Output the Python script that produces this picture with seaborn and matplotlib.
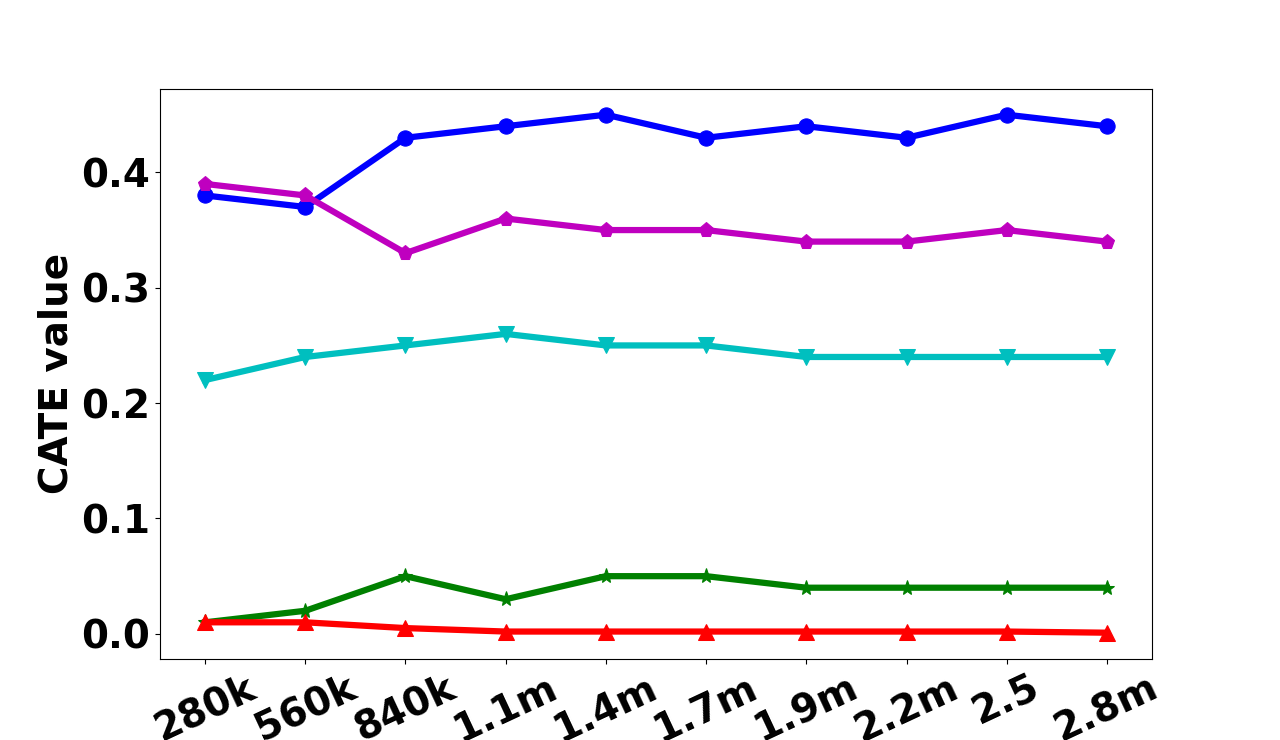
import matplotlib
matplotlib.use("Agg")
import matplotlib.pyplot as plt
import seaborn as sns
import pandas as pd

x_labels = ["280k", "560k", "840k", "1.1m", "1.4m", "1.7m", "1.9m", "2.2m", "2.5", "2.8m"]
blue_vals = [0.38, 0.37, 0.43, 0.44, 0.45, 0.43, 0.44, 0.43, 0.45, 0.44]
magenta_vals = [0.39, 0.38, 0.33, 0.36, 0.35, 0.35, 0.34, 0.34, 0.35, 0.34]
cyan_vals = [0.22, 0.24, 0.25, 0.26, 0.25, 0.25, 0.24, 0.24, 0.24, 0.24]
green_vals = [0.01, 0.02, 0.05, 0.03, 0.05, 0.05, 0.04, 0.04, 0.04, 0.04]
red_vals = [0.01, 0.01, 0.005, 0.002, 0.002, 0.002, 0.002, 0.002, 0.002, 0.001]

series = [
    (blue_vals, "b", "o"),
    (magenta_vals, "m", "p"),
    (cyan_vals, "c", "v"),
    (green_vals, "g", "*"),
    (red_vals, "r", "^"),
]

fig, ax = plt.subplots(figsize=(12.8, 7.4), dpi=100)
fig.subplots_adjust(left=0.125, right=0.9, top=0.88, bottom=0.11)
idx = list(range(len(x_labels)))
for vals, c, m in series:
    df = pd.DataFrame({"x": idx, "y": vals})
    sns.lineplot(data=df, x="x", y="y", ax=ax, color=c, marker=m,
                 markersize=11, linewidth=4.5, markeredgecolor=c)

ax.set_xticks(idx)
ax.set_xticklabels(x_labels, rotation=25, fontsize=28, fontweight="bold")
ax.tick_params(axis="y", labelsize=28)
plt.setp(ax.get_yticklabels(), fontweight="bold")
ax.set_xlabel("")
ax.set_ylabel("CATE value", fontsize=28, fontweight="bold")
fig.savefig("out.png", dpi=100)
